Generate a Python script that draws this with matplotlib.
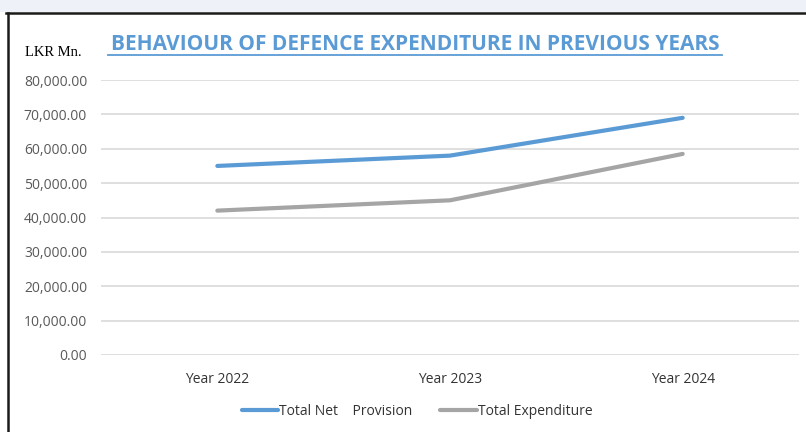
import matplotlib.pyplot as plt
from matplotlib.lines import Line2D
from matplotlib.patches import Rectangle
from matplotlib.ticker import FuncFormatter

years = ["Year 2022", "Year 2023", "Year 2024"]
net_provision = [55000, 58000, 69000]
total_expenditure = [42000, 45000, 58500]
series_names = ["Total Net    Provision", "Total Expenditure"]

BLUE = "#5b9bd5"
GREY = "#a5a5a5"
TXT = "#595959"
FONT = ["Open Sans", "DejaVu Sans"]

fig = plt.figure(figsize=(8.06, 4.32), dpi=100)

# light band on top + black frame (left and top)
fig.patches.append(Rectangle((0, 1 - 12/432), 1, 12/432, transform=fig.transFigure,
                             fc="#eef2f8", ec="none", zorder=0))
fig.add_artist(Line2D([6/806, 1], [1 - 13/432, 1 - 13/432], transform=fig.transFigure,
                      color="#1a1a1a", lw=1.8))
fig.add_artist(Line2D([8/806, 8/806], [0, 1 - 13/432], transform=fig.transFigure,
                      color="#1a1a1a", lw=1.8))

ax = fig.add_axes([101/806, 1 - 355/432, 698/806, 275/432])
x = range(len(years))
ax.plot(x, net_provision, color=BLUE, lw=3, solid_capstyle="round", label=series_names[0])
ax.plot(x, total_expenditure, color=GREY, lw=3, solid_capstyle="round", label=series_names[1])

ax.set_xlim(-0.5, 2.5)
ax.set_ylim(0, 80000)
ax.set_yticks(range(0, 80001, 10000))
ax.yaxis.set_major_formatter(FuncFormatter(lambda v, p: f"{v:,.2f}"))
ax.set_xticks(list(x))
ax.set_xticklabels(years)
ax.grid(axis="y", color="#d9d9d9", lw=1.2)
ax.set_axisbelow(True)
for s in ax.spines.values():
    s.set_visible(False)
ax.tick_params(length=0, labelsize=10, labelcolor=TXT, pad=13)
ax.tick_params(axis="y", pad=10)
ax.tick_params(axis="x", pad=12, labelcolor="#333333")
for lab in ax.get_xticklabels() + ax.get_yticklabels():
    lab.set_family(FONT)

# title, underlined
fig.text(415/806, 1 - 44/432, "BEHAVIOUR OF DEFENCE EXPENDITURE IN PREVIOUS YEARS",
         ha="center", va="center", color=BLUE, fontsize=15, fontweight="bold",
         family=FONT)
fig.add_artist(Line2D([108/806, 722/806], [1 - 55/432, 1 - 55/432],
                      transform=fig.transFigure, color=BLUE, lw=1.3))
fig.text(25/806, 1 - 52/432, "LKR Mn.", ha="left", va="center", fontsize=10.5,
         family="Liberation Serif", color="#000000")

leg = ax.legend(loc="center", bbox_to_anchor=(0.453, -0.205), ncol=2, frameon=False,
                handlelength=2.6, handletextpad=0.1, columnspacing=2.0,
                prop={"family": FONT, "size": 10})
for txt in leg.get_texts():
    txt.set_color("#333333")

fig.savefig("out.png", dpi=100)
